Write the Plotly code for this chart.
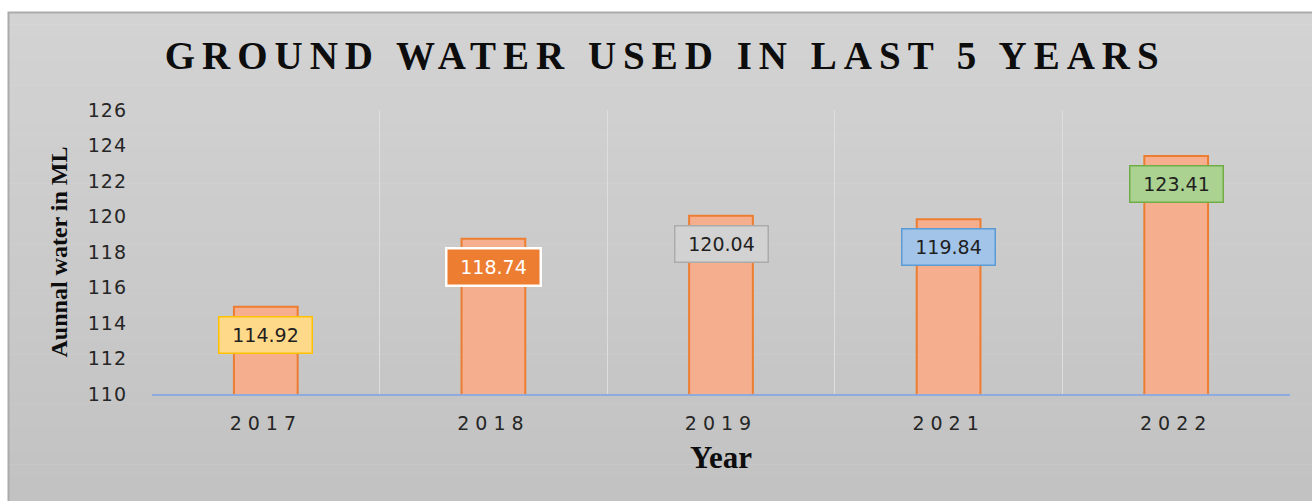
import plotly.graph_objects as go

# ---- data ----
years = ["2017", "2018", "2019", "2021", "2022"]
water_ml = [114.92, 118.74, 120.04, 119.84, 123.41]
y_ticks = [110, 112, 114, 116, 118, 120, 122, 124, 126]

# ---- label styles (per bar) ----
label_bg = ["#FFD98A", "#ED7D31", "#D2D2D2", "#A3C4E9", "#ABD290"]
label_border = ["#FFC000", "#FFFFFF", "#ABABAB", "#5B9BD5", "#70AD47"]
label_text = ["#1F1F1F", "#FFFFFF", "#1F1F1F", "#1F1F1F", "#1F1F1F"]
label_bw = [1.5, 2.5, 1.5, 1.5, 1.5]

W, H = 1312, 501
L, R, T, B = 152, 22, 110, 107
PW, PH = W - L - R, H - T - B


def px_x(p):
    return (p - L) / PW


def px_y(p):
    return (H - B - p) / PH


fig = go.Figure()
fig.add_trace(go.Bar(
    x=years, y=water_ml, base=0,
    width=0.28,
    marker=dict(color="#F5AF8F", line=dict(color="#ED7D31", width=2)),
    hoverinfo="x+y",
))

# background gradient bands
shapes = []
n = 40
top_px, bot_px = 12, 501
for i in range(n):
    a = top_px + (bot_px - top_px) * i / n
    b = top_px + (bot_px - top_px) * (i + 1) / n
    t = i / (n - 1)
    c = int(round(0xD3 + (0xC2 - 0xD3) * t))
    shapes.append(dict(type="rect", xref="paper", yref="paper", layer="below",
                       x0=px_x(8), x1=px_x(1320), y0=px_y(b + 0.5), y1=px_y(a),
                       line=dict(width=0), fillcolor=f"rgb({c},{c},{c})"))
shapes.append(dict(type="rect", xref="paper", yref="paper", layer="below",
                   x0=px_x(8.5), x1=px_x(1330), y0=px_y(520), y1=px_y(12.5),
                   line=dict(color="#ABABAB", width=2), fillcolor="rgba(0,0,0,0)"))

annotations = []
for i, v in enumerate(water_ml):
    annotations.append(dict(
        x=i, y=v, xref="x", yref="y", text=f"{v:.2f}", showarrow=False,
        yshift=-28, yanchor="middle", xanchor="center",
        width=88, height=31, borderpad=2,
        bgcolor=label_bg[i], bordercolor=label_border[i], borderwidth=label_bw[i],
        font=dict(family="DejaVu Sans", size=19, color=label_text[i]),
    ))

fig.update_layout(
    width=W, height=H, autosize=False,
    margin=dict(l=L, r=R, t=T, b=B),
    paper_bgcolor="white", plot_bgcolor="rgba(0,0,0,0)",
    showlegend=False,
    title=dict(text="<b>GROUND WATER USED IN LAST 5 YEARS</b>",
               x=0.507, xref="container", xanchor="center",
               y=0.89, yref="container", yanchor="middle",
               font=dict(family="Liberation Serif", size=39, color="#0D0D0D")),
    shapes=shapes,
    annotations=annotations,
    xaxis=dict(
        type="category", categoryorder="array", categoryarray=years,
        range=[-0.5, len(years) - 0.5],
        tickson="boundaries", showgrid=True,
        gridcolor="#DEDEDE", gridwidth=1,
        showline=True, linecolor="#8FAADC", linewidth=1.5,
        ticks="", ticklabelstandoff=11, tickangle=0,
        tickfont=dict(family="DejaVu Sans", size=19, color="#262626"),
        title=dict(text="<b>Year</b>", standoff=14,
                   font=dict(family="Liberation Serif", size=31, color="#0D0D0D")),
    ),
    yaxis=dict(
        range=[110, 126], tickvals=y_ticks, showgrid=False, zeroline=False,
        showline=False, ticks="", ticklabelstandoff=24,
        tickfont=dict(family="DejaVu Sans", size=19, color="#262626"),
        title=dict(text="<b>Aunnal water in ML</b>", standoff=16,
                   font=dict(family="Liberation Serif", size=24, color="#0D0D0D")),
    ),
)

post = """
document.body.style.margin='0';
document.body.style.overflow='hidden';
var gd=document.getElementsByClassName('plotly-graph-div')[0];
gd.querySelectorAll('.gtitle').forEach(function(e){e.style.letterSpacing='7px';});
gd.querySelectorAll('.xtick text').forEach(function(e){e.style.letterSpacing='6px';});
gd.querySelectorAll('.ytick text').forEach(function(e){e.style.letterSpacing='1px';});
"""

fig.write_html("out.html", post_script=post, config={"displayModeBar": False})
